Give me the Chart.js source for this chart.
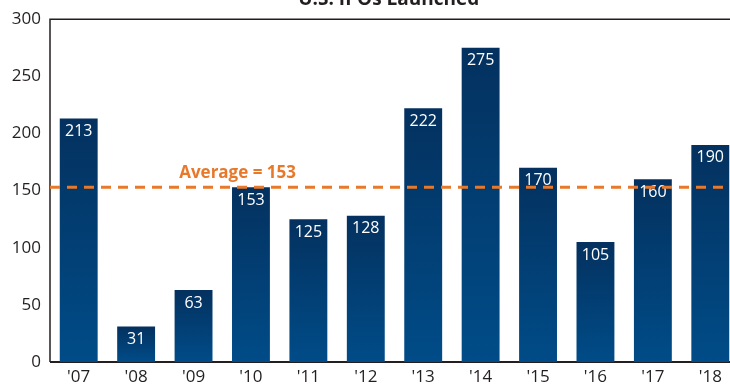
<!DOCTYPE html>
<html>
<head>
<meta charset="utf-8">
<script src="https://cdn.jsdelivr.net/npm/chart.js@4"></script>
<style>
  html, body { margin: 0; padding: 0; background: #fff; overflow: hidden; }
  #wrap { position: relative; width: 745px; height: 385px; }
</style>
</head>
<body>
<div id="wrap"><canvas id="ipoChart"></canvas></div>
<script>
'use strict';

const TITLE      = 'U.S. IPOs Launched';
const YEARS      = ["'07", "'08", "'09", "'10", "'11", "'12", "'13", "'14", "'15", "'16", "'17", "'18"];
const IPO_COUNTS = [213, 31, 63, 153, 125, 128, 222, 275, 170, 105, 160, 190];
const AVERAGE    = 153;
const AVG_LABEL  = 'Average = 153';
const Y_TICKS    = [0, 50, 100, 150, 200, 250, 300];

const FONT   = "'Open Sans', 'Noto Sans', sans-serif";
const ORANGE = '#e8792b';
const INK    = '#231f20';

// ── Plugins ─────────────────────────────────────────────────────────────────

const framePlugin = {
  id: 'frame',
  beforeDatasetsDraw(chart) {
    const { ctx, chartArea: a } = chart;
    ctx.save();
    ctx.strokeStyle = INK;
    ctx.lineWidth = 1.5;
    ctx.beginPath();
    ctx.moveTo(a.left, a.bottom);
    ctx.lineTo(a.left, a.top);
    ctx.lineTo(a.right, a.top);
    ctx.stroke();
    ctx.lineWidth = 2;
    ctx.beginPath();
    ctx.moveTo(a.left, a.bottom);
    ctx.lineTo(a.right, a.bottom);
    ctx.stroke();
    ctx.restore();
  },
};

const overlayPlugin = {
  id: 'overlay',
  afterDatasetsDraw(chart) {
    const { ctx, chartArea: a, scales } = chart;
    ctx.save();

    // value labels inside the bars
    const meta = chart.getDatasetMeta(0);
    ctx.fillStyle = '#fff';
    ctx.font = `16px ${FONT}`;
    ctx.textAlign = 'center';
    ctx.textBaseline = 'middle';
    meta.data.forEach((bar, i) => {
      ctx.fillText(String(IPO_COUNTS[i]), bar.x, bar.y + 13);
    });

    // average line
    const y = scales.y.getPixelForValue(AVERAGE);
    ctx.strokeStyle = ORANGE;
    ctx.lineWidth = 3;
    ctx.setLineDash([10, 7]);
    ctx.beginPath();
    ctx.moveTo(a.left, y);
    ctx.lineTo(a.right, y);
    ctx.stroke();
    ctx.setLineDash([]);

    ctx.fillStyle = ORANGE;
    ctx.font = `bold 17px ${FONT}`;
    ctx.textAlign = 'left';
    ctx.textBaseline = 'alphabetic';
    ctx.fillText(AVG_LABEL, scales.x.getPixelForValue(1.75), y - 9);

    // title, mostly clipped by the top edge
    ctx.fillStyle = INK;
    ctx.font = `bold 19px ${FONT}`;
    ctx.textAlign = 'center';
    ctx.fillText(TITLE, scales.x.getPixelForValue(5.4), 5);

    ctx.restore();
  },
};

// ── Chart ───────────────────────────────────────────────────────────────────

function barGradient(context) {
  const chart = context.chart;
  const { ctx, chartArea } = chart;
  if (!chartArea) return '#003a6f';
  const v = IPO_COUNTS[context.dataIndex];
  const top = chart.scales.y.getPixelForValue(v);
  const bottom = chart.scales.y.getPixelForValue(0);
  const g = ctx.createLinearGradient(0, top, 0, bottom);
  g.addColorStop(0, '#04315f');
  g.addColorStop(1, '#004c88');
  return g;
}

new Chart(document.getElementById('ipoChart').getContext('2d'), {
  type: 'bar',
  data: {
    labels: YEARS,
    datasets: [{
      data: IPO_COUNTS,
      backgroundColor: barGradient,
      borderWidth: 0,
      barPercentage: 0.66,
      categoryPercentage: 1,
    }],
  },
  options: {
    responsive: true,
    maintainAspectRatio: false,
    animation: false,
    layout: { padding: { top: 17, right: 6, left: 0, bottom: 0 } },
    plugins: {
      legend: { display: false },
      title: { display: false },
      tooltip: { enabled: false },
    },
    scales: {
      x: {
        grid: { display: false, drawTicks: false },
        border: { display: false },
        afterFit: scale => { scale.height = 23; },
        ticks: {
          color: INK,
          font: { family: FONT, size: 17 },
          padding: 5,
          maxRotation: 0,
        },
      },
      y: {
        min: 0,
        max: 300,
        afterBuildTicks: scale => { scale.ticks = Y_TICKS.map(v => ({ value: v })); },
        afterFit: scale => { scale.width = 50; },
        grid: { display: false, drawTicks: false },
        border: { display: false },
        ticks: {
          color: INK,
          font: { family: FONT, size: 17 },
          padding: 9,
        },
      },
    },
  },
  plugins: [framePlugin, overlayPlugin],
});
</script>
</body>
</html>
